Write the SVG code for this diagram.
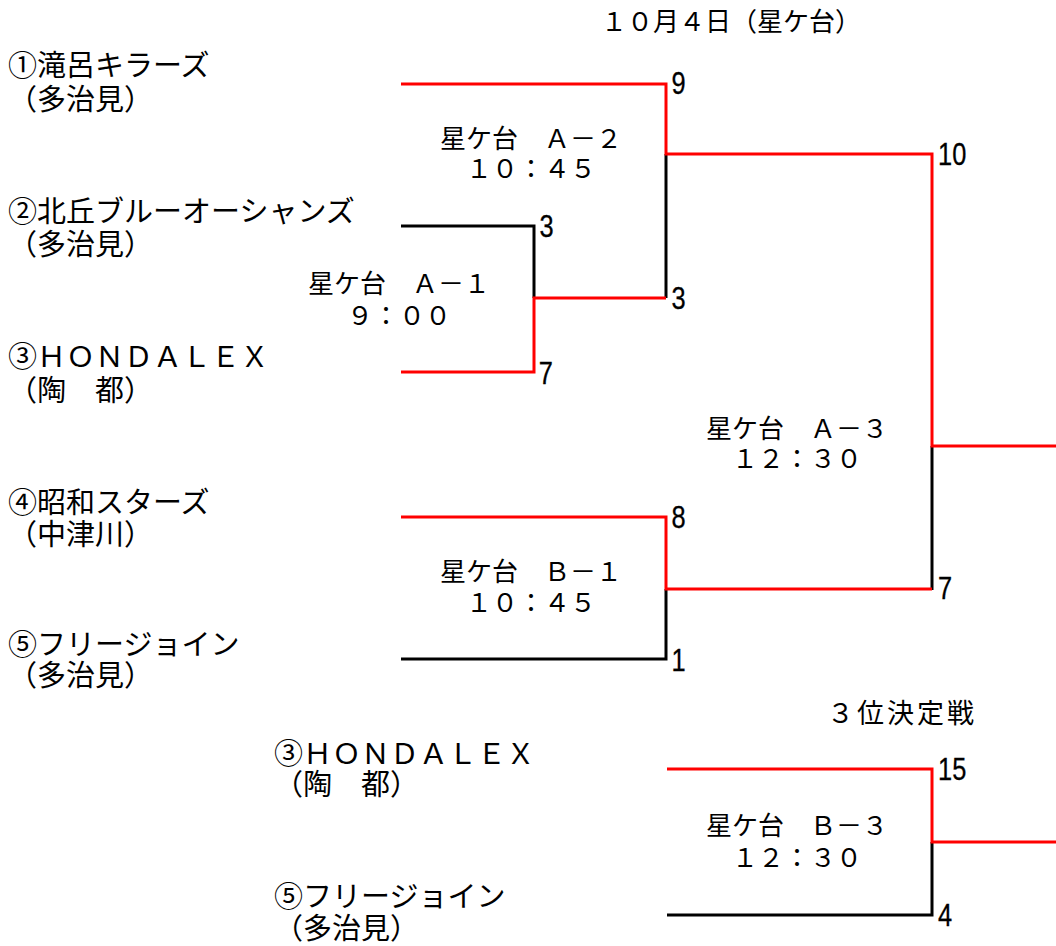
<svg xmlns="http://www.w3.org/2000/svg" width="1056" height="946" viewBox="0 0 1056 946">
<style>
.t{font-family:"Noto Sans CJK JP","Noto Sans CJK SC",sans-serif;fill:#000}
.nm{font-size:29px}
.lb{font-size:26px;text-anchor:middle}
.sc{font-family:"Liberation Sans",Arial,sans-serif;font-size:31px;fill:#000;stroke:#000;stroke-width:0.3}
.k{fill:none;stroke:#000;stroke-width:3}
.r{fill:none;stroke:#ff0000;stroke-width:3}
</style>
<rect width="1056" height="946" fill="#fff"/>
<g id="connectors">
<path class="k" d="M401,226 H534 V298"/>
<path class="k" d="M666,154 V298"/>
<path class="k" d="M932,446 V590"/>
<path class="k" d="M401,659 H666 V589"/>
<path class="k" d="M667,915 H932 V842"/>
<path class="r" d="M401,84 H666 V154 H932 V446 H1056"/>
<path class="r" d="M401,372 H534 V298 H666"/>
<path class="r" d="M401,517 H666 V589 H932"/>
<path class="r" d="M667,769 H932 V842 H1056"/>
</g>
<g id="title">
<text class="t" x="601" y="31" font-size="26">１０月４日（星ケ台）</text>
<text class="t" x="827" y="723" font-size="27" letter-spacing="3">３位決定戦</text>
</g>
<g id="team1"><text class="t nm" x="8" y="76">①滝呂キラーズ</text><text class="t nm" x="8" y="110">（多治見）</text></g>
<g id="team2"><text class="t nm" x="8" y="222">②北丘ブルーオーシャンズ</text><text class="t nm" x="8" y="255">（多治見）</text></g>
<g id="team3"><text class="t nm" x="8" y="367">③ＨＯＮＤＡＬＥＸ</text><text class="t nm" x="8" y="401">（陶　都）</text></g>
<g id="team4"><text class="t nm" x="8" y="513">④昭和スターズ</text><text class="t nm" x="8" y="545">（中津川）</text></g>
<g id="team5"><text class="t nm" x="8" y="655">⑤フリージョイン</text><text class="t nm" x="8" y="686">（多治見）</text></g>
<g id="team3b"><text class="t nm" x="274" y="764">③ＨＯＮＤＡＬＥＸ</text><text class="t nm" x="274" y="795">（陶　都）</text></g>
<g id="team5b"><text class="t nm" x="274" y="907">⑤フリージョイン</text><text class="t nm" x="274" y="939">（多治見）</text></g>
<g id="matchA1"><text class="t lb" x="399" y="293">星ケ台　Ａ－１</text><text class="t lb" x="399" y="325">９：００</text></g>
<g id="matchA2"><text class="t lb" x="531" y="148">星ケ台　Ａ－２</text><text class="t lb" x="531" y="178">１０：４５</text></g>
<g id="matchA3"><text class="t lb" x="797" y="438">星ケ台　Ａ－３</text><text class="t lb" x="797" y="468">１２：３０</text></g>
<g id="matchB1"><text class="t lb" x="531" y="581">星ケ台　Ｂ－１</text><text class="t lb" x="531" y="612">１０：４５</text></g>
<g id="matchB3"><text class="t lb" x="797" y="835">星ケ台　Ｂ－３</text><text class="t lb" x="797" y="867">１２：３０</text></g>
<g id="scores" transform="scale(0.82,1)">
<text class="sc" x="819" y="94">9</text>
<text class="sc" x="658" y="237">3</text>
<text class="sc" x="819" y="309">3</text>
<text class="sc" x="657" y="384">7</text>
<text class="sc" x="1144" y="165">10</text>
<text class="sc" x="819" y="528">8</text>
<text class="sc" x="819" y="671">1</text>
<text class="sc" x="1144" y="599">7</text>
<text class="sc" x="1144" y="780">15</text>
<text class="sc" x="1144" y="926">4</text>
</g>
</svg>
